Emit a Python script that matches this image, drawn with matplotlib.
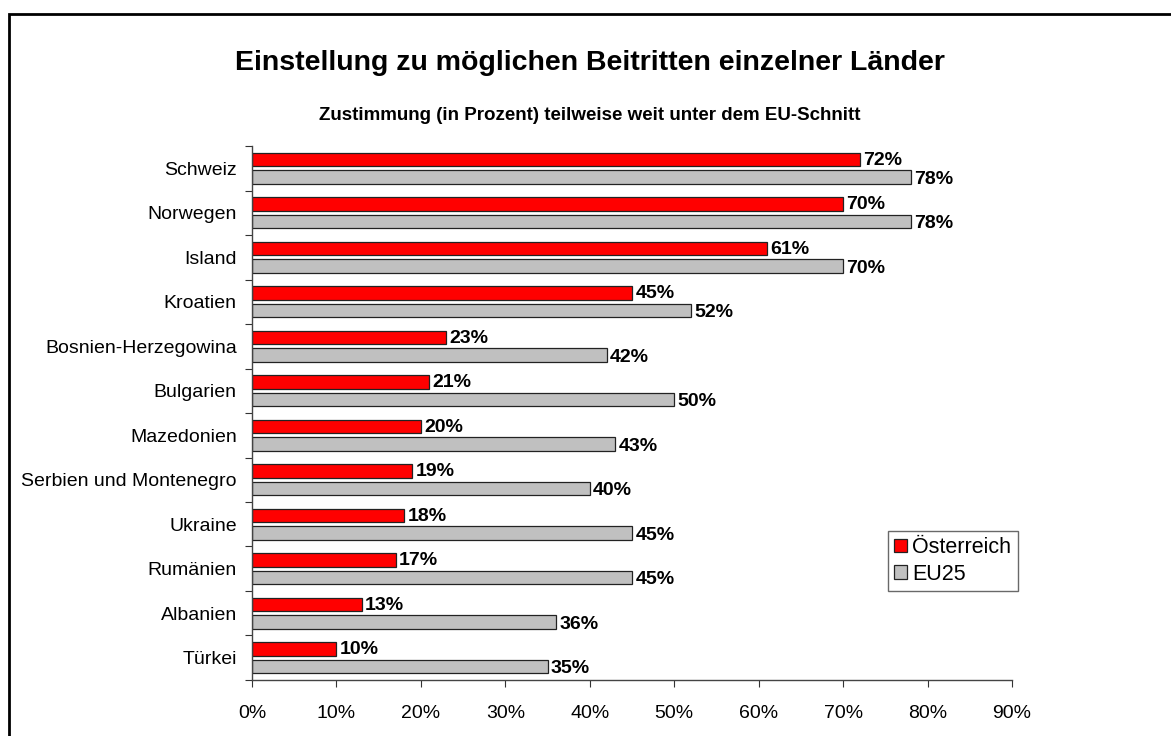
import numpy as np
import matplotlib.pyplot as plt
from matplotlib.patches import Rectangle

plt.rcParams['font.family'] = ['Liberation Sans', 'DejaVu Sans']

laender = ['Schweiz', 'Norwegen', 'Island', 'Kroatien', 'Bosnien-Herzegowina',
           'Bulgarien', 'Mazedonien', 'Serbien und Montenegro', 'Ukraine',
           'Rumänien', 'Albanien', 'Türkei']
oesterreich = [72, 70, 61, 45, 23, 21, 20, 19, 18, 17, 13, 10]
eu25 = [78, 78, 70, 52, 42, 50, 43, 40, 45, 45, 36, 35]
xticks = [0, 10, 20, 30, 40, 50, 60, 70, 80, 90]

fig = plt.figure(figsize=(11.71, 7.36), dpi=100)
ax = fig.add_axes([0.2152, 0.0761, 0.649, 0.7255])

y = np.arange(len(laender))
h = 0.31
off = 0.195
ax.barh(y - off, oesterreich, height=h, color='#FF0000', edgecolor='#222222',
        linewidth=0.9, label='Österreich')
ax.barh(y + off, eu25, height=h, color='#C0C0C0', edgecolor='#222222',
        linewidth=0.9, label='EU25')

for i in range(len(laender)):
    ax.text(oesterreich[i] + 0.4, y[i] - off + 0.02, f'{oesterreich[i]}%',
            va='center', ha='left', fontsize=14, fontweight='bold')
    ax.text(eu25[i] + 0.4, y[i] + off + 0.05, f'{eu25[i]}%',
            va='center', ha='left', fontsize=14, fontweight='bold')

ax.set_xlim(0, 90)
ax.set_ylim(len(laender) - 0.5, -0.5)
ax.set_xticks(xticks)
ax.set_xticklabels([f'{v}%' for v in xticks], fontsize=14)
ax.set_yticks(np.arange(len(laender) + 1) - 0.5)
ax.set_yticklabels([])
ax.set_yticks(y, minor=True)
ax.set_yticklabels(laender, minor=True, fontsize=14)
ax.tick_params(axis='y', which='minor', length=0, pad=11)
ax.tick_params(axis='y', which='major', length=5, direction='out', color='#333333')
ax.tick_params(axis='x', length=5, direction='out', color='#333333', pad=13)

for s in ['top', 'right']:
    ax.spines[s].set_visible(False)
for s in ['left', 'bottom']:
    ax.spines[s].set_color('#444444')
    ax.spines[s].set_linewidth(1)

leg = ax.legend(loc='lower left', bbox_to_anchor=(0.758, 0.197),
                bbox_transform=fig.transFigure, fontsize=15.5, frameon=True,
                fancybox=False, handlelength=0.6, handleheight=0.6,
                handletextpad=0.25, borderpad=0.3, labelspacing=0.25,
                borderaxespad=0)
leg.get_frame().set_edgecolor('#444444')
leg.get_frame().set_linewidth(1)

fig.text(0.504, 0.914, 'Einstellung zu möglichen Beitritten einzelner Länder',
         ha='center', va='center', fontsize=20.5, fontweight='bold')
fig.text(0.504, 0.843, 'Zustimmung (in Prozent) teilweise weit unter dem EU-Schnitt',
         ha='center', va='center', fontsize=13.5, fontweight='bold')

fig.patches.append(Rectangle((9 / 1171, -0.1), 1.2, 0.1 + 1 - 13.5 / 736,
                             transform=fig.transFigure, fill=False,
                             edgecolor='black', linewidth=2))

fig.savefig('out.png', dpi=100)
